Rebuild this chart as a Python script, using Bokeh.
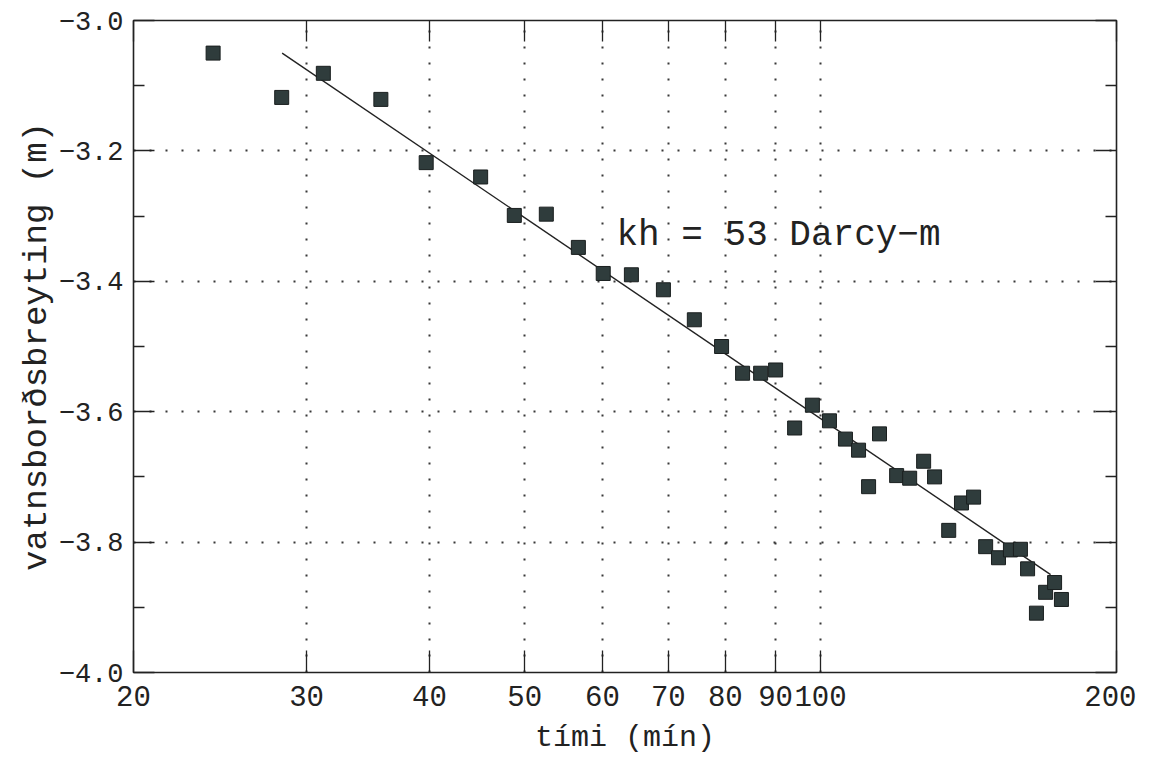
from bokeh.plotting import figure
from bokeh.models import (FixedTicker, LinearAxis, LogAxis, Label, PrintfTickFormatter,
                          CustomLabelingPolicy)
from bokeh.embed import file_html
from bokeh.resources import INLINE

# ---- data ----
t_min = [24.1, 28.3, 31.2, 35.7, 39.7, 45.1, 48.8, 52.6, 56.7, 60.1,
         64.2, 69.2, 74.4, 79.3, 83.3, 86.9, 90.0, 94.1, 98.1, 102.1,
         106.0, 109.3, 111.9, 114.8, 119.5, 123.2, 127.3, 130.6, 135.0, 139.1,
         143.1, 147.2, 151.7, 156.0, 159.7, 162.4, 165.8, 169.4, 173.0, 175.8]
dh_m = [-3.050, -3.118, -3.081, -3.121, -3.218, -3.240, -3.299, -3.297, -3.348, -3.388,
        -3.390, -3.413, -3.459, -3.500, -3.541, -3.541, -3.536, -3.625, -3.590, -3.614,
        -3.642, -3.659, -3.715, -3.634, -3.698, -3.702, -3.676, -3.700, -3.782, -3.740,
        -3.731, -3.807, -3.824, -3.812, -3.811, -3.841, -3.909, -3.877, -3.862, -3.888]

fit_t = [28.33, 171.4]
fit_h = [-3.050, -3.850]

x_ticks = [20, 30, 40, 50, 60, 70, 80, 90, 100, 200]
x_grid = [30, 40, 50, 60, 70, 80, 90, 100]
y_ticks = [-4.0, -3.8, -3.6, -3.4, -3.2, -3.0]
y_tick_labels = ["\u22124.0", "\u22123.8", "\u22123.6", "\u22123.4", "\u22123.2", "\u22123.0"]
y_minor = [-3.9, -3.7, -3.5, -3.3, -3.1]
y_grid = [-3.8, -3.6, -3.4, -3.2]

annot_text = "kh = 53 Darcy\u2212m"
annot_x, annot_y = 62.0, -3.330

x_label = "t\u00edmi (m\u00edn)"
y_label = "vatnsbor\u00f0sbreyting (m)"

INK = "#222222"
mono = "Liberation Mono"

# ---- figure ----
p = figure(frame_width=983, frame_height=652,
           x_axis_type="log", x_range=(20, 200), y_range=(-4.0, -3.0),
           output_backend="svg", toolbar_location=None,
           min_border_left=133, min_border_top=20, min_border_right=20, min_border_bottom=84)
p.background_fill_color = "white"
p.border_fill_color = "white"
p.outline_line_color = INK
p.outline_line_width = 1.6

# bottom axis
xa = p.xaxis[0]
xa.ticker = FixedTicker(ticks=x_ticks, minor_ticks=[])
xa.formatter = PrintfTickFormatter(format="%d")
xa.axis_line_color = None
xa.major_tick_in = 22
xa.major_tick_out = 0
xa.major_tick_line_color = INK
xa.major_tick_line_width = 1.3
xa.minor_tick_line_color = None
xa.major_label_text_font = mono
xa.major_label_text_font_size = "29px"
xa.major_label_text_color = INK
xa.major_label_standoff = 13
xa.axis_label = x_label
xa.axis_label_text_font = mono
xa.axis_label_text_font_size = "30px"
xa.axis_label_text_font_style = "normal"
xa.axis_label_text_color = INK
xa.axis_label_standoff = 12

# left axis
ya = p.yaxis[0]
ya.ticker = FixedTicker(ticks=y_ticks, minor_ticks=y_minor)
ya.major_label_overrides = {v: s for v, s in zip(y_ticks, y_tick_labels)}
ya.axis_line_color = None
ya.major_tick_in = 21
ya.major_tick_out = 0
ya.minor_tick_in = 11
ya.minor_tick_out = 0
ya.major_tick_line_color = INK
ya.minor_tick_line_color = INK
ya.major_tick_line_width = 1.3
ya.minor_tick_line_width = 1.3
ya.major_label_text_font = mono
ya.major_label_text_font_size = "27px"
ya.major_label_text_color = INK
ya.major_label_standoff = 10
ya.axis_label = y_label
ya.axis_label_text_font = mono
ya.axis_label_text_font_size = "34px"
ya.axis_label_text_font_style = "normal"
ya.axis_label_text_color = INK
ya.axis_label_standoff = 0

no_labels = CustomLabelingPolicy(code="for (const i of indices) { if (i < 0) yield i }")

# top axis (ticks only)
ta = LogAxis(ticker=FixedTicker(ticks=x_ticks, minor_ticks=[]),
             axis_line_color=None, major_tick_in=21, major_tick_out=0,
             major_tick_line_color=INK, major_tick_line_width=1.3,
             minor_tick_line_color=None, major_label_text_font_size="1px",
             major_label_standoff=0, major_label_policy=no_labels)
p.add_layout(ta, "above")

# right axis (ticks only)
ra = LinearAxis(ticker=FixedTicker(ticks=y_ticks, minor_ticks=y_minor),
                axis_line_color=None, major_tick_in=21, major_tick_out=0,
                minor_tick_in=11, minor_tick_out=0,
                major_tick_line_color=INK, minor_tick_line_color=INK,
                major_tick_line_width=1.3, minor_tick_line_width=1.3,
                major_label_text_font_size="1px", major_label_standoff=0,
                major_label_policy=no_labels)
p.add_layout(ra, "right")

# dotted grids
p.xgrid.ticker = FixedTicker(ticks=x_grid, minor_ticks=[])
p.ygrid.ticker = FixedTicker(ticks=y_grid, minor_ticks=[])
for g in (p.xgrid[0], p.ygrid[0]):
    g.grid_line_color = INK
    g.grid_line_width = 2
    g.grid_line_dash = "2 14"
    g.grid_line_alpha = 0.9

# fit line
p.line(fit_t, fit_h, line_color=INK, line_width=1.4)

# data points
p.scatter(t_min, dh_m, marker="square", size=14,
          fill_color="#2f3c3c", line_color="#1a1f1f", line_width=1)

# annotation
p.add_layout(Label(x=annot_x, y=annot_y, text=annot_text,
                   text_font=mono, text_font_size="36px",
                   text_color=INK, text_baseline="alphabetic"))

open("out.html", "w").write(file_html(p, INLINE))
